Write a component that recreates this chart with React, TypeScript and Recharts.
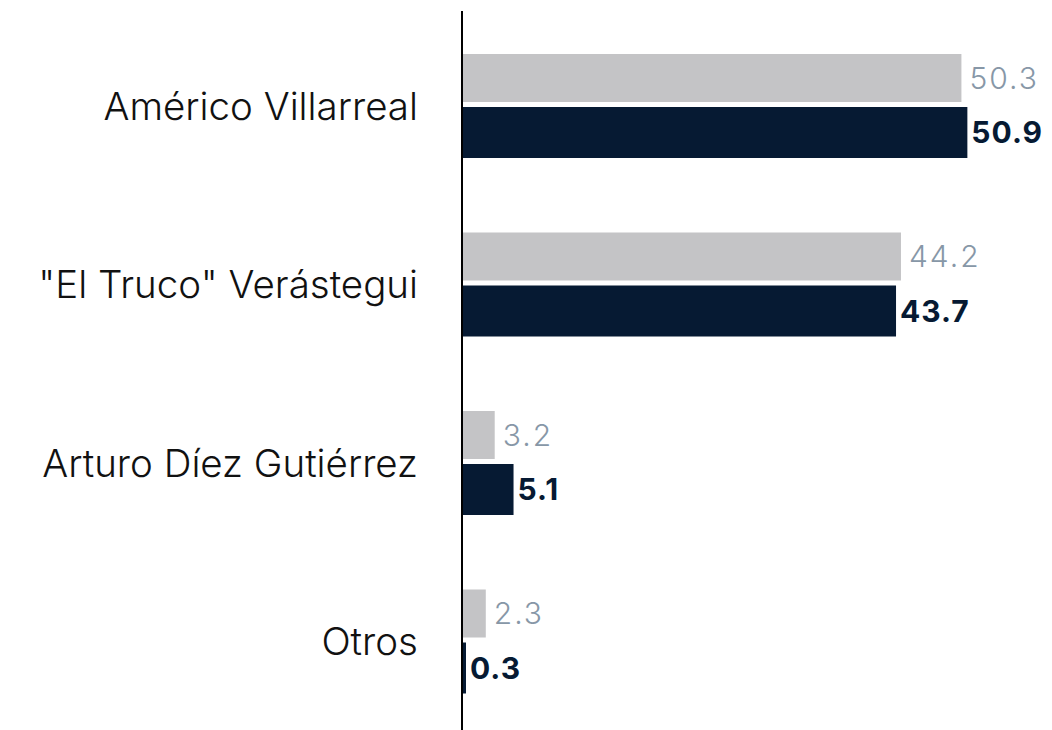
import { BarChart, Bar, XAxis, YAxis, LabelList } from "recharts"

const candidates = [
  "Américo Villarreal",
  "\"El Truco\" Verástegui",
  "Arturo Díez Gutiérrez",
  "Otros",
]
const previousValues = [50.3, 44.2, 3.2, 2.3]
const currentValues = [50.9, 43.7, 5.1, 0.3]

const data = candidates.map((name, i) => ({
  name,
  previous: previousValues[i],
  current: currentValues[i],
}))

const FONT = "Inter, 'Liberation Sans', Arial, sans-serif"

export default function App() {
  return (
    <div style={{ position: "absolute", left: 0, top: 0, background: "#fff" }}>
      <BarChart
        width={1052}
        height={731}
        data={data}
        layout="vertical"
        margin={{ top: 11, right: 44, bottom: 0, left: 0 }}
        barGap={5}
      >
        <XAxis type="number" domain={[0, 55]} hide padding={{ left: 1, right: 0 }} />
        <YAxis
          type="category"
          dataKey="name"
          width={462}
          padding={{ top: 6, bottom: 0 }}
          axisLine={{ stroke: "#000", strokeWidth: 2 }}
          tickLine={false}
          tickSize={0}
          tickMargin={44}
          tick={{ fill: "#111", fontSize: 38.5, fontWeight: 300, fontFamily: FONT }}
        />
        <Bar dataKey="previous" fill="#c4c4c6" barSize={48} isAnimationActive={false}>
          <LabelList
            dataKey="previous"
            position="right"
            offset={8}
            fill="#8797a7"
            fontSize={30}
            fontWeight={300}
            fontFamily={FONT}
            style={{ letterSpacing: 2 }}
          />
        </Bar>
        <Bar dataKey="current" fill="#061a33" barSize={51} isAnimationActive={false}>
          <LabelList
            dataKey="current"
            position="right"
            offset={4}
            fill="#061a33"
            fontSize={30}
            fontWeight={700}
            fontFamily={FONT}
            style={{ letterSpacing: 1 }}
          />
        </Bar>
      </BarChart>
    </div>
  )
}
